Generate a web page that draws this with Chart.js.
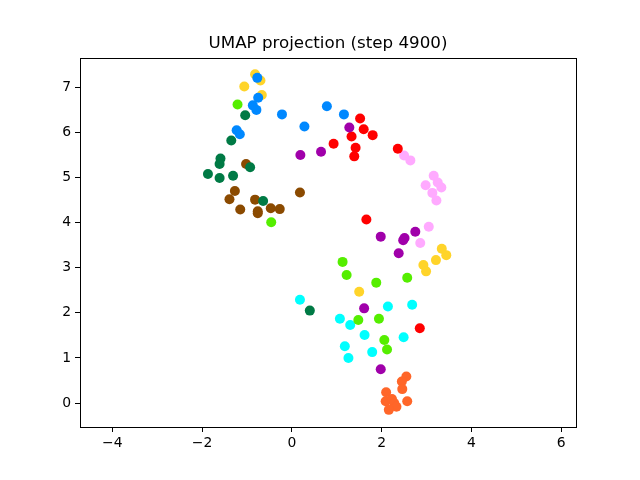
<!DOCTYPE html>
<html>
<head>
<meta charset="utf-8">
<script src="https://cdn.jsdelivr.net/npm/chart.js@4/dist/chart.umd.min.js"></script>
<style>
  html, body { margin: 0; padding: 0; background: #fff; }
  #wrap { width: 640px; height: 480px; }
</style>
</head>
<body>
<div id="wrap"><canvas id="umap" width="640" height="480"></canvas></div>
<script>
const chartTitle = 'UMAP projection (step 4900)'
const xTicks = [-4, -2, 0, 2, 4, 6]
const yTicks = [0, 1, 2, 3, 4, 5, 6, 7]

// one list of [x, y] pairs per class
const gold = [[-0.82, 7.29], [-0.70, 7.15], [-1.06, 7.02], [-0.67, 6.83], [1.50, 2.47],
  [3.34, 3.42], [3.44, 3.28], [3.21, 3.17], [2.93, 3.06], [2.99, 2.92]]
const blue = [[-0.77, 7.21], [-0.75, 6.77], [-0.87, 6.60], [-0.79, 6.50], [-0.22, 6.40],
  [0.28, 6.13], [0.78, 6.58], [1.16, 6.40], [-1.23, 6.05], [-1.16, 5.96]]
const lime = [[-1.21, 6.62], [-0.46, 4.01], [1.13, 3.13], [1.22, 2.84], [1.88, 2.67],
  [2.57, 2.78], [1.48, 1.84], [1.94, 1.87], [2.06, 1.40], [2.12, 1.19]]
const darkGreen = [[-1.04, 6.38], [-1.35, 5.82], [-1.59, 5.42], [-1.61, 5.30], [-1.87, 5.08],
  [-1.61, 4.99], [-1.31, 5.04], [-0.93, 5.23], [-0.64, 4.48], [0.40, 2.05]]
const brown = [[-1.02, 5.30], [-1.27, 4.70], [-1.39, 4.52], [-1.15, 4.29], [-0.82, 4.51],
  [-0.76, 4.25], [-0.76, 4.21], [-0.47, 4.32], [-0.27, 4.30], [0.18, 4.67]]
const purple = [[1.28, 6.11], [0.19, 5.50], [0.65, 5.57], [1.98, 3.69], [2.51, 3.66],
  [2.48, 3.61], [2.75, 3.80], [2.38, 3.32], [1.61, 2.10], [1.98, 0.75]]
const red = [[1.52, 6.31], [1.60, 6.07], [1.33, 5.91], [1.80, 5.94], [0.93, 5.75],
  [1.42, 5.66], [1.39, 5.47], [2.36, 5.64], [1.66, 4.07], [2.85, 1.66]]
const pink = [[2.50, 5.49], [2.64, 5.38], [3.16, 5.04], [3.25, 4.89], [3.33, 4.78],
  [2.98, 4.83], [3.13, 4.66], [3.22, 4.49], [3.05, 3.91], [2.86, 3.55]]
const cyan = [[0.18, 2.29], [2.14, 2.14], [2.68, 2.18], [1.07, 1.87], [1.30, 1.73],
  [1.62, 1.51], [2.49, 1.46], [1.18, 1.26], [1.79, 1.13], [1.26, 1.00]]
const orange = [[2.55, 0.59], [2.45, 0.48], [2.46, 0.31], [2.10, 0.24], [2.09, 0.04],
  [2.23, 0.09], [2.28, 0.00], [2.33, -0.08], [2.16, -0.15], [2.57, 0.04]]

const groups = [
  [blue, '#0088ff'],
  [gold, '#ffd42a'],
  [lime, '#55ee00'],
  [darkGreen, '#007a45'],
  [brown, '#8b4a00'],
  [purple, '#a000aa'],
  [red, '#ff0000'],
  [pink, '#ffaaff'],
  [cyan, '#00ffff'],
  [orange, '#ff6629'],
]

const minus = (v) => (v < 0 ? '\u2212' + Math.abs(v) : String(v))

// box around the axes + title centred over the plot area, like matplotlib
const frame = {
  id: 'frame',
  afterDatasetsDraw(chart) {
    const { ctx, chartArea: a } = chart
    ctx.save()
    ctx.strokeStyle = '#000'
    ctx.lineWidth = 1
    ctx.strokeRect(Math.round(a.left) + 0.5, Math.round(a.top) + 0.5,
      Math.round(a.right - a.left), Math.round(a.bottom - a.top))
    ctx.fillStyle = '#000'
    ctx.font = '16.7px "DejaVu Sans"'
    ctx.textAlign = 'center'
    ctx.textBaseline = 'middle'
    ctx.fillText(chartTitle, (a.left + a.right) / 2, 44)
    ctx.restore()
  },
}

const tickFont = { family: 'DejaVu Sans', size: 13.9 }

new Chart(document.getElementById('umap'), {
  type: 'scatter',
  data: {
    datasets: groups.map(([pts, color]) => ({
      data: pts.map(([x, y]) => ({ x, y })),
      backgroundColor: color,
      borderWidth: 0,
      pointRadius: 5,
    })),
  },
  options: {
    responsive: false,
    animation: false,
    layout: { padding: { top: 58, right: 64, bottom: 0, left: 0 } },
    plugins: {
      legend: { display: false },
      tooltip: { enabled: false },
    },
    scales: {
      x: {
        type: 'linear',
        min: -4.72,
        max: 6.33,
        afterBuildTicks: (s) => { s.ticks = xTicks.map((value) => ({ value })) },
        afterFit: (s) => { s.height = 53 },
        grid: { drawOnChartArea: false, drawTicks: true, tickLength: 5, color: '#000' },
        border: { display: true, color: '#000' },
        ticks: { color: '#000', font: tickFont, padding: 3, maxRotation: 0, callback: minus },
      },
      y: {
        type: 'linear',
        min: -0.53,
        max: 7.65,
        afterBuildTicks: (s) => { s.ticks = yTicks.map((value) => ({ value })) },
        afterFit: (s) => { s.width = 80 },
        grid: { drawOnChartArea: false, drawTicks: true, tickLength: 5, color: '#000' },
        border: { display: true, color: '#000' },
        ticks: { color: '#000', font: tickFont, padding: 4, callback: minus },
      },
    },
  },
  plugins: [frame],
})
</script>
</body>
</html>
